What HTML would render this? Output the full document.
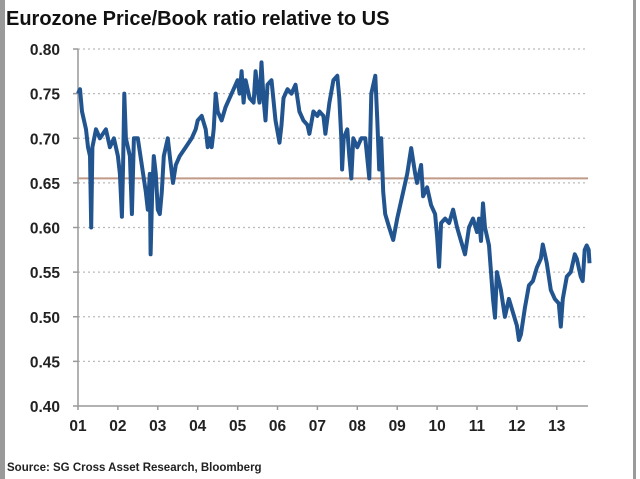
<!DOCTYPE html>
<html><head><meta charset="utf-8"><style>
body{margin:0;background:#fff;}
#wrap{position:relative;width:640px;height:479px;overflow:hidden;background:#fff;font-family:"Liberation Sans",sans-serif;}
</style></head><body>
<div id="wrap">
<svg id="chart" width="640" height="479">
<rect x="0" y="0" width="5" height="479" fill="#9a9a9a"/>
<rect x="633" y="0" width="3" height="479" fill="#9a9a9a"/>
<text x="6" y="25" font-size="20" font-weight="bold" fill="#111">Eurozone Price/Book ratio relative to US</text>
<text x="7" y="471" font-size="11.5" font-weight="bold" fill="#222">Source: SG Cross Asset Research, Bloomberg</text>
<g id="grid"></g><g id="axes"></g><g id="marks"></g>
</svg>
</div>
<script>
const yTicks=[0.40,0.45,0.50,0.55,0.60,0.65,0.70,0.75,0.80];
const xTickLabels=["01","02","03","04","05","06","07","08","09","10","11","12","13"];
const refValue=0.655;
const years=[2001.0,2001.05,2001.1,2001.2,2001.25,2001.3,2001.33,2001.36,2001.45,2001.55,2001.7,2001.8,2001.9,2002.0,2002.05,2002.1,2002.13,2002.16,2002.2,2002.3,2002.35,2002.4,2002.5,2002.6,2002.7,2002.75,2002.8,2002.82,2002.86,2002.9,2002.95,2003.0,2003.05,2003.1,2003.15,2003.25,2003.3,2003.38,2003.45,2003.55,2003.7,2003.85,2003.95,2004.0,2004.1,2004.2,2004.25,2004.3,2004.35,2004.4,2004.45,2004.5,2004.6,2004.7,2004.8,2004.9,2005.0,2005.05,2005.1,2005.15,2005.2,2005.3,2005.4,2005.45,2005.5,2005.55,2005.6,2005.65,2005.7,2005.75,2005.85,2005.95,2006.05,2006.1,2006.15,2006.25,2006.35,2006.45,2006.55,2006.65,2006.75,2006.8,2006.9,2007.0,2007.05,2007.15,2007.2,2007.3,2007.4,2007.5,2007.55,2007.6,2007.62,2007.66,2007.75,2007.8,2007.85,2007.9,2008.0,2008.1,2008.2,2008.3,2008.35,2008.45,2008.5,2008.55,2008.6,2008.65,2008.7,2008.8,2008.9,2009.0,2009.1,2009.25,2009.35,2009.45,2009.5,2009.6,2009.65,2009.75,2009.85,2009.95,2010.0,2010.05,2010.1,2010.2,2010.3,2010.4,2010.5,2010.6,2010.7,2010.8,2010.9,2011.0,2011.05,2011.1,2011.15,2011.2,2011.3,2011.35,2011.4,2011.45,2011.5,2011.6,2011.7,2011.8,2011.9,2012.0,2012.05,2012.1,2012.2,2012.3,2012.4,2012.5,2012.6,2012.65,2012.75,2012.85,2012.95,2013.05,2013.1,2013.15,2013.25,2013.35,2013.45,2013.5,2013.6,2013.65,2013.7,2013.75,2013.8,2013.82];
const values=[0.75,0.755,0.73,0.71,0.69,0.68,0.60,0.69,0.71,0.70,0.71,0.69,0.70,0.68,0.66,0.612,0.67,0.75,0.70,0.68,0.615,0.70,0.70,0.67,0.64,0.62,0.66,0.57,0.64,0.68,0.66,0.62,0.615,0.64,0.68,0.70,0.68,0.65,0.67,0.68,0.69,0.70,0.71,0.72,0.725,0.71,0.69,0.70,0.69,0.71,0.75,0.73,0.72,0.735,0.745,0.755,0.765,0.75,0.775,0.74,0.765,0.745,0.74,0.775,0.755,0.74,0.785,0.745,0.72,0.76,0.765,0.72,0.695,0.715,0.745,0.755,0.75,0.76,0.73,0.72,0.715,0.705,0.73,0.725,0.73,0.725,0.705,0.74,0.765,0.77,0.745,0.70,0.665,0.70,0.71,0.68,0.655,0.70,0.69,0.70,0.70,0.655,0.75,0.77,0.72,0.665,0.70,0.64,0.615,0.60,0.586,0.61,0.63,0.66,0.689,0.66,0.65,0.67,0.635,0.645,0.625,0.615,0.59,0.556,0.605,0.61,0.605,0.62,0.60,0.585,0.57,0.60,0.61,0.595,0.61,0.585,0.627,0.60,0.58,0.55,0.52,0.499,0.55,0.53,0.50,0.52,0.505,0.49,0.474,0.48,0.51,0.535,0.54,0.555,0.565,0.581,0.56,0.53,0.52,0.515,0.489,0.52,0.545,0.55,0.57,0.565,0.545,0.54,0.575,0.58,0.575,0.56];
const NS="http://www.w3.org/2000/svg";
const X0=78,YEARW=39.9,XR=588,YB=406,YT=49;
function xs(y){return X0+(y-2001)*YEARW;}
function ys(v){return YB-(v-0.40)/(0.40)*(YB-YT);}
function mk(t,a,p){const e=document.createElementNS(NS,t);for(const k in a)e.setAttribute(k,a[k]);p.appendChild(e);return e;}
const grid=document.getElementById('grid'),axes=document.getElementById('axes'),marks=document.getElementById('marks');
yTicks.forEach((v,i)=>{
  if(i>0){const g=mk('line',{x1:X0,x2:XR,y1:ys(v),y2:ys(v),stroke:'#bbb','stroke-width':1.2,'stroke-dasharray':'2,3'},grid);
  
  }
  const tk=mk('line',{x1:X0-5,x2:X0,y1:ys(v),y2:ys(v),stroke:'#999','stroke-width':1.5},axes);
  
  
  const t=mk('text',{x:60,y:ys(v)+6,'text-anchor':'end','font-size':15.5,'font-weight':'bold',fill:'#222'},axes);
  t.textContent=v.toFixed(2);
  
  
});
const ya=mk('line',{x1:X0,x2:X0,y1:YT,y2:YB,stroke:'#999','stroke-width':1.5},axes);


const xa=mk('line',{x1:X0,x2:XR,y1:YB,y2:YB,stroke:'#999','stroke-width':1.5},axes);


xTickLabels.forEach((l,i)=>{
  const x=xs(2001+i);
  const tk=mk('line',{x1:x,x2:x,y1:YB,y2:YB+4,stroke:'#999','stroke-width':1.5},axes);
  
  
  const t=mk('text',{x:x,y:YB+25,'text-anchor':'middle','font-size':15.5,'font-weight':'bold',fill:'#222'},axes);
  t.textContent=l;
  
  
});
const ref=mk('line',{x1:X0,x2:XR,y1:ys(refValue),y2:ys(refValue),stroke:'#c09a88','stroke-width':2},marks);


const d=years.map((y,i)=>(i?'L':'M')+xs(y).toFixed(1)+','+ys(values[i]).toFixed(1)).join(' ');
const p=mk('path',{d:d,fill:'none',stroke:'#22558f','stroke-width':4,'stroke-linejoin':'round'},marks);


</script>
</body></html>
